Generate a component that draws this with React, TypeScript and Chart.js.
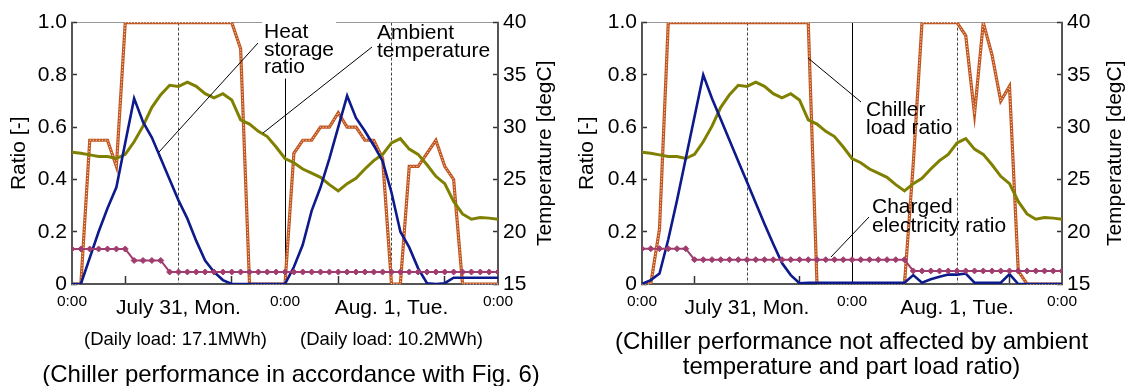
import React, { useEffect, useRef } from 'react';
import { Chart, registerables } from 'chart.js';

Chart.register(...registerables);

const FONT = "'Liberation Sans', Arial, Helvetica, sans-serif";

// ---------- data ----------
const hours = [0, 1, 2, 3, 4, 5, 6, 7, 8, 9, 10, 11, 12, 13, 14, 15, 16, 17, 18, 19, 20, 21, 22, 23, 24,
  25, 26, 27, 28, 29, 30, 31, 32, 33, 34, 35, 36, 37, 38, 39, 40, 41, 42, 43, 44, 45, 46, 47, 48];

const ambientTemp = [27.6, 27.5, 27.35, 27.2, 27.2, 27.0, 27.4, 28.6, 30.1, 31.9, 33.1, 34.0, 33.9, 34.3, 33.9,
  33.2, 32.8, 33.2, 32.6, 30.7, 30.3, 29.6, 29.1, 28.1, 27.0,
  26.6, 26.0, 25.6, 25.2, 24.5, 23.9, 24.6, 25.1, 26.0, 26.8, 27.4, 28.5, 28.9, 27.9, 27.4, 26.4, 25.3,
  24.6, 22.9, 21.7, 21.2, 21.35, 21.3, 21.2];

// Panel A: chiller performance in accordance with Fig. 6
const heatStorageA = [0, 0, 0.10, 0.20, 0.29, 0.37, 0.54, 0.71, 0.62, 0.56, 0.48, 0.40, 0.32, 0.25, 0.165,
  0.09, 0.046, 0.015, 0, 0, 0, 0, 0, 0, 0,
  0.065, 0.15, 0.28, 0.37, 0.48, 0.60, 0.72, 0.635, 0.585, 0.53, 0.47, 0.35, 0.20, 0.14, 0.06, 0.003, 0,
  0.003, 0.024, 0.024, 0.024, 0.024, 0.024, 0.024];
const chillerLoadA = [0, 0, 0.55, 0.55, 0.55, 0.45, 1, 1, 1, 1, 1, 1, 1, 1, 1, 1, 1, 1, 1, 0.9, 0, 0, 0, 0, 0,
  0.50, 0.55, 0.55, 0.60, 0.60, 0.655, 0.60, 0.60, 0.55, 0.55, 0.48, 0, 0, 0.45, 0.45, 0.50, 0.55, 0.45,
  0.40, 0, 0, 0, 0, 0];
const chargedElecA = [0.134, 0.134, 0.134, 0.134, 0.134, 0.134, 0.134, 0.09, 0.09, 0.09, 0.09,
  0.046, 0.046, 0.046, 0.046, 0.046, 0.046, 0.046, 0.046, 0.046, 0.046, 0.046, 0.046, 0.046, 0.046,
  0.046, 0.046, 0.046, 0.046, 0.046, 0.046, 0.046, 0.046, 0.046, 0.046, 0.046, 0.046, 0.046, 0.046,
  0.046, 0.046, 0.046, 0.046, 0.046, 0.046, 0.046, 0.046, 0.046, 0.046];

// Panel B: chiller performance not affected by ambient temperature and part load ratio
const heatStorageB = [0, 0.015, 0.04, 0.17, 0.32, 0.48, 0.64, 0.80, 0.71, 0.63, 0.55, 0.47, 0.39, 0.31, 0.23,
  0.153, 0.08, 0.034, 0.003, 0.005, 0.005, 0.005, 0.005, 0.005, 0.005,
  0.005, 0.005, 0.005, 0.005, 0.005, 0.005, 0.034, 0.005, 0.018, 0.028, 0.036, 0.036, 0.04, 0.005, 0.005,
  0.005, 0.005, 0.038, 0, 0, 0, 0, 0, 0];
const chillerLoadB = [0, 0, 0.21, 1, 1, 1, 1, 1, 1, 1, 1, 1, 1, 1, 1, 1, 1, 1, 1, 1, 0, 0, 0, 0, 0,
  0, 0, 0, 0, 0, 0, 0.46, 1, 1, 1, 1, 1, 0.95, 0.65, 1, 0.877, 0.70, 0.757, 0.05, 0, 0, 0, 0, 0];
const chargedElecB = [0.135, 0.135, 0.135, 0.135, 0.135, 0.135, 0.093, 0.093, 0.093, 0.093, 0.093, 0.093,
  0.093, 0.093, 0.093, 0.093, 0.093, 0.093, 0.093, 0.093, 0.093, 0.093, 0.093, 0.093, 0.093, 0.093,
  0.093, 0.093, 0.093, 0.093, 0.093, 0.05, 0.05, 0.05, 0.05, 0.05, 0.05, 0.05, 0.05, 0.05, 0.05,
  0.05, 0.05, 0.05, 0.05, 0.05, 0.05, 0.05, 0.05];

const xTickLabels: Record<number, string> = {
  0: '0:00', 12: 'July 31, Mon.', 24: '0:00', 36: 'Aug. 1, Tue.', 48: '0:00',
};
const minorTickHours = [6, 18, 30, 42];
const dashedHours = [12, 36];
const solidHours = [24];

const ratioAxisTitle = 'Ratio [-]';
const tempAxisTitle = 'Temperature [degC]';

// ---------- panel layout ----------
type Note = {
  lines: string[]; x: number; y: number; lh: number;
  from: [number, number]; to: [number, number];
  bg?: [number, number, number, number];
};
type Caption = { text: string; x: number; y: number; size: number };
type Panel = {
  left: number; width: number; top: number; leftW: number; rightW: number; titlePad: number;
  tempTitleX: number;
  heat: number[]; chiller: number[]; charged: number[];
  notes: Note[]; captions: Caption[];
};

const panels: Panel[] = [
  {
    left: 0, width: 560, top: 18, leftW: 72, rightW: 62, titlePad: 7, tempTitleX: 545,
    heat: heatStorageA, chiller: chillerLoadA, charged: chargedElecA,
    notes: [
      { lines: ['Heat', 'storage', 'ratio'], x: 264, y: 38, lh: 17.6, from: [258, 43], to: [159, 152], bg: [262, 19.5, 74, 59] },
      { lines: ['Ambient', 'temperature'], x: 377, y: 39.3, lh: 17.4, from: [372, 47], to: [263, 133] },
    ],
    captions: [
      { text: '(Daily load: 17.1MWh)', x: 175.5, y: 345, size: 18.5 },
      { text: '(Daily load: 10.2MWh)', x: 391.5, y: 345, size: 18.5 },
      { text: '(Chiller performance in accordance with Fig. 6)', x: 291, y: 381.5, size: 24 },
    ],
  },
  {
    left: 560, width: 569, top: 19, leftW: 82, rightW: 67, titlePad: 15, tempTitleX: 555,
    heat: heatStorageB, chiller: chillerLoadB, charged: chargedElecB,
    notes: [
      { lines: ['Chiller', 'load ratio'], x: 306, y: 116, lh: 18, from: [248, 58], to: [301, 102] },
      { lines: ['Charged', 'electricity ratio'], x: 312, y: 213.4, lh: 18.3, from: [309, 217], to: [271, 257] },
    ],
    captions: [
      { text: '(Chiller performance not affected by ambient', x: 291.5, y: 349, size: 24 },
      { text: 'temperature and part load ratio)', x: 291.5, y: 374, size: 24 },
    ],
  },
];

const CANVAS_H = 386;
const PLOT_BOTTOM = 284;
const X_AXIS_H = 40;

function pts(values: number[]) {
  return hours.map((h, i) => ({ x: h, y: values[i] }));
}

function makeChart(canvas: HTMLCanvasElement, p: Panel) {
  const clear = 'rgba(0,0,0,0)';
  const annot = {
    id: 'annot',
    afterDatasetDraw(chart: any, args: any) {
      const ds = chart.data.datasets[args.index];
      if (ds.label !== 'Chiller load ratio') return;
      const ctx = chart.ctx;
      const points = args.meta.data;
      ctx.save();
      ctx.beginPath();
      points.forEach((pt: any, i: number) => (i ? ctx.lineTo(pt.x, pt.y) : ctx.moveTo(pt.x, pt.y)));
      ctx.lineWidth = 1;
      ctx.strokeStyle = 'rgba(255,225,205,0.95)';
      ctx.setLineDash([1.2, 1.8]);
      ctx.stroke();
      ctx.restore();
    },
    afterDraw(chart: any) {
      const ctx = chart.ctx;
      const area = chart.chartArea;
      ctx.save();
      // annotations
      p.notes.forEach((n) => {
        if (n.bg) {
          ctx.fillStyle = '#fff';
          ctx.fillRect(n.bg[0], n.bg[1], n.bg[2], n.bg[3]);
        }
        ctx.strokeStyle = '#000';
        ctx.lineWidth = 1;
        ctx.setLineDash([]);
        ctx.beginPath();
        ctx.moveTo(n.from[0], n.from[1]);
        ctx.lineTo(n.to[0], n.to[1]);
        ctx.stroke();
        ctx.fillStyle = '#000';
        ctx.font = `21px ${FONT}`;
        ctx.textAlign = 'left';
        ctx.textBaseline = 'alphabetic';
        n.lines.forEach((t, i) => ctx.fillText(t, n.x, n.y + i * n.lh));
      });
      // captions
      p.captions.forEach((c) => {
        ctx.fillStyle = '#000';
        ctx.font = `${c.size}px ${FONT}`;
        ctx.textAlign = 'center';
        ctx.textBaseline = 'alphabetic';
        ctx.fillText(c.text, c.x, c.y);
      });
      // right axis title (reads bottom to top)
      ctx.translate(p.tempTitleX, (area.top + area.bottom) / 2);
      ctx.rotate(-Math.PI / 2);
      ctx.font = `21px ${FONT}`;
      ctx.textAlign = 'center';
      ctx.textBaseline = 'middle';
      ctx.fillText(tempAxisTitle, 0, 0);
      ctx.restore();
    },
  };

  return new Chart(canvas, {
    type: 'line',
    data: {
      datasets: [
        {
          label: 'Charged electricity ratio', data: pts(p.charged), yAxisID: 'y',
          borderColor: '#a03d6e', backgroundColor: '#a03d6e', borderWidth: 2,
          pointStyle: 'rectRot', pointRadius: 3, pointBorderWidth: 1, pointBorderColor: '#a03d6e',
        },
        {
          label: 'Heat storage ratio', data: pts(p.heat), yAxisID: 'y',
          borderColor: '#0d1a8c', borderWidth: 2.6, pointRadius: 0,
        },
        {
          label: 'Ambient temperature', data: pts(ambientTemp), yAxisID: 'y2',
          borderColor: '#808000', borderWidth: 3, pointRadius: 0,
        },
        {
          label: 'Chiller load ratio', data: pts(p.chiller), yAxisID: 'y',
          borderColor: '#c0551f', borderWidth: 3.2, pointRadius: 0,
        },
      ] as any,
    },
    options: {
      responsive: false,
      animation: false,
      events: [],
      layout: { padding: { top: p.top, left: 0, right: 0, bottom: CANVAS_H - PLOT_BOTTOM - X_AXIS_H } },
      plugins: { legend: { display: false }, tooltip: { enabled: false } },
      elements: { line: { tension: 0 } },
      scales: {
        x: {
          type: 'linear', position: 'bottom', min: 0, max: 48,
          afterFit: (s: any) => { s.height = X_AXIS_H; },
          ticks: {
            stepSize: 6, autoSkip: false, maxRotation: 0, minRotation: 0, padding: 12, color: '#000',
            callback: (v: any) => xTickLabels[Number(v)] ?? '',
            font: (c: any) => {
              const v = c.tick ? c.tick.value : 0;
              return v === 12 || v === 36
                ? { family: FONT, size: 21, lineHeight: 1.95 }
                : { family: FONT, size: 15.5, lineHeight: 1.8 };
            },
          },
          grid: {
            color: (c: any) => {
              const v = c.tick ? c.tick.value : -1;
              if (solidHours.includes(v)) return '#000';
              if (dashedHours.includes(v)) return '#444';
              return clear;
            },
            lineWidth: 1,
            tickLength: -8,
            tickWidth: 1.5,
            tickColor: (c: any) => (c.tick && minorTickHours.includes(c.tick.value) ? '#333' : clear),
          },
          border: {
            display: true, color: '#555', width: 2,
            dash: (c: any) => (c.tick && dashedHours.includes(c.tick.value) ? [3, 2] : []),
          },
        },
        y: {
          type: 'linear', position: 'left', min: 0, max: 1,
          afterFit: (s: any) => { s.width = p.leftW; },
          ticks: {
            stepSize: 0.2, padding: 10, color: '#000', font: { family: FONT, size: 21 },
            callback: (v: any) => (Number(v) === 0 ? '0' : Number(v).toFixed(1)),
          },
          grid: {
            color: (c: any) => (c.tick && Math.abs(c.tick.value - 1) < 1e-6 ? '#999' : clear),
            lineWidth: 1, tickLength: -5, tickWidth: 1.5, tickColor: '#333',
          },
          border: { display: true, color: '#555', width: 2 },
          title: {
            display: true, text: ratioAxisTitle, color: '#000',
            font: { family: FONT, size: 21 }, padding: { top: p.titlePad, bottom: 0 },
          },
        },
        y2: {
          type: 'linear', position: 'right', min: 15, max: 40,
          afterFit: (s: any) => { s.width = p.rightW; },
          ticks: { stepSize: 5, padding: 10, color: '#000', font: { family: FONT, size: 21 } },
          grid: { drawOnChartArea: false, tickLength: -5, tickWidth: 1.5, tickColor: '#333' },
          border: { display: true, color: '#555', width: 2 },
        },
      },
    } as any,
    plugins: [annot],
  });
}

export default function App() {
  const refA = useRef<HTMLCanvasElement>(null);
  const refB = useRef<HTMLCanvasElement>(null);

  useEffect(() => {
    Chart.defaults.font.family = FONT;
    Chart.defaults.color = '#000';
    const charts: Chart[] = [];
    if (refA.current) charts.push(makeChart(refA.current, panels[0]));
    if (refB.current) charts.push(makeChart(refB.current, panels[1]));
    return () => charts.forEach((c) => c.destroy());
  }, []);

  return (
    <div style={{ position: 'absolute', left: 0, top: 0, width: 1129, height: CANVAS_H, background: '#fff', overflow: 'hidden' }}>
      <canvas ref={refA} width={panels[0].width} height={CANVAS_H}
        style={{ position: 'absolute', left: panels[0].left, top: 0, width: panels[0].width, height: CANVAS_H }} />
      <canvas ref={refB} width={panels[1].width} height={CANVAS_H}
        style={{ position: 'absolute', left: panels[1].left, top: 0, width: panels[1].width, height: CANVAS_H }} />
    </div>
  );
}
